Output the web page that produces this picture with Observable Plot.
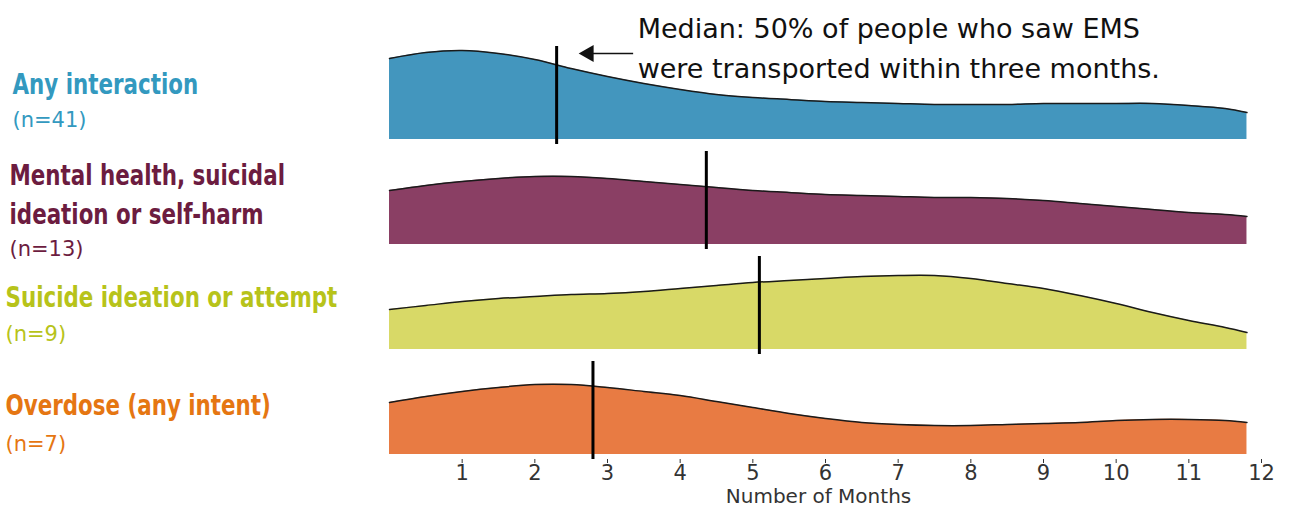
<!DOCTYPE html>
<html><head><meta charset="utf-8">
<script src="https://cdn.jsdelivr.net/npm/d3@7"></script>
<script src="https://cdn.jsdelivr.net/npm/@observablehq/plot@0.6"></script>
<style>
html,body{margin:0;padding:0;background:#fff;}
#chart{width:1290px;height:507px;overflow:hidden;}
</style></head><body><div id="chart"></div>
<script>
// ---- data ----
const categories = ["Any interaction", "Mental health, suicidal\nideation or self-harm", "Suicide ideation or attempt", "Overdose (any intent)"];
const counts = [41, 13, 9, 7];
const medians = [2.3, 4.36, 5.09, 2.8];
const months = [0,0.5,1,1.5,2,2.5,3,3.5,4,4.5,5,5.5,6,6.5,7,7.5,8,8.5,9,9.5,10,10.5,11,11.5,11.8];
const densityAny      = [81,87,89,86,80,71,63,56,50,45,42,40,38,37,36,35,35,35,36,36,36,36,34,31,27];
const densityMental   = [54,59,63,66,68,68,66,63,60,57,54,52,50,49,48,47,47,46,44,41,38,35,32,30,28];
const densitySuicide  = [40,44,48,51,53,55,56,58,61,64,67,69,71,73,74,74,71,66,61,54,46,37,29,22,17];
const densityOverdose = [52,58,63,67,70,70,67,63,59,53,47,41,36,32,30,29,29,30,31,32,34,35,35,34,32];
const xTicks = [1,2,3,4,5,6,7,8,9,10,11,12];
const axisLabel = "Number of Months";
const annotation = "Median: 50% of people who saw EMS\nwere transported within three months.";

// ---- styles / layout ----
const areaColors  = ["#4396be", "#8a3f64", "#d8d967", "#e87b43"];
const labelColors = ["#3399bf", "#6c1c40", "#b7c31a", "#e57612"];
// baselines (px) measured from each row's frame top
const labelLayout = [
  {dx: -377, titleBase: 48,   nBase: 80.3},
  {dx: -380, titleBase: 33.7, nBase: 104},
  {dx: -384, titleBase: 50.3, nBase: 84.6},
  {dx: -384, titleBase: 54,   nBase: 89.3}
];
const titleSize = 28, titleLH = 1.393, nSize = 21, titleSqueeze = 0.85;
const annSize = 27, annLH = 1.48;
const yDomain = [-5, 93];

const densities = [densityAny, densityMental, densitySuicide, densityOverdose];
const rows = [];
categories.forEach((c, i) => months.forEach((m, j) => rows.push({cat: c, month: m, density: densities[i][j]})));
const info = categories.map((c, i) => ({cat: c, n: `(n=${counts[i]})`, median: medians[i]}));

const labelMarks = info.flatMap((d, i) => [
  Plot.text([d], {fy: "cat", text: "cat", frameAnchor: "top-left", textAnchor: "start", lineAnchor: "top",
    dx: labelLayout[i].dx, dy: labelLayout[i].titleBase - 0.71 * titleLH * titleSize,
    fontSize: titleSize, fontWeight: "bold", lineHeight: titleLH,
    fontFamily: "'DejaVu Sans Condensed','DejaVu Sans',sans-serif", fill: labelColors[i], ariaDescription: "row-title"}),
  Plot.text([d], {fy: "cat", text: "n", frameAnchor: "top-left", textAnchor: "start", lineAnchor: "top",
    dx: labelLayout[i].dx, dy: labelLayout[i].nBase - 0.71 * nSize, fontSize: nSize,
    fontFamily: "DejaVu Sans", fill: labelColors[i]})
]);

const plot = Plot.plot({
  width: 1290, height: 507,
  marginLeft: 389, marginRight: 29, marginTop: 45, marginBottom: 48,
  style: {fontFamily: "DejaVu Sans", fontSize: "21px", background: "white", color: "#333"},
  x: {domain: [0, 12], ticks: xTicks, tickSize: 4, tickPadding: 2, label: null},
  y: {domain: yDomain, axis: null},
  fy: {domain: categories, axis: null, paddingInner: 0.0696, paddingOuter: 0},
  color: {domain: categories, range: areaColors},
  marks: [
    Plot.areaY(rows, {x: "month", y: "density", fy: "cat", fill: "cat", curve: "catmull-rom"}),
    Plot.lineY(rows, {x: "month", y: "density", fy: "cat", z: "cat", stroke: "#1a1a1a", strokeWidth: 1.5, curve: "catmull-rom"}),
    Plot.ruleX(info, {x: "median", fy: "cat", stroke: "black", strokeWidth: 3}),
    ...labelMarks,
    Plot.text([info[0]], {fy: "cat", x: "median", text: () => annotation, frameAnchor: "top", textAnchor: "start",
      lineAnchor: "top", dx: 81, dy: -8.3 - 0.71 * annLH * annSize, fontSize: annSize, lineHeight: annLH,
      fontFamily: "DejaVu Sans", fill: "#111"}),
    Plot.ruleY([info[0]], {fy: "cat", y: () => yDomain[1], x1: "median", x2: "median", dy: 7,
      insetLeft: 30, insetRight: -77, stroke: "#111", strokeWidth: 1.5}),
    Plot.dot([info[0]], {fy: "cat", x: "median", frameAnchor: "top", dy: 7, dx: 32, symbol: "triangle",
      r: 6.4, rotate: -90, fill: "#111", stroke: "none"}),
    Plot.text([info[3]], {fy: "cat", text: () => axisLabel, frameAnchor: "bottom", lineAnchor: "bottom",
      dx: -7, dy: 43, fontSize: 20, fontFamily: "DejaVu Sans", fill: "#333"})
  ]
});
// condense the bold row titles horizontally around their left anchor
d3.select(plot).selectAll('g[aria-description="row-title"] text')
  .attr("transform", function () { return (this.getAttribute("transform") || "") + ` scale(${titleSqueeze},1)`; });
document.getElementById("chart").appendChild(plot);
</script>
</body></html>
